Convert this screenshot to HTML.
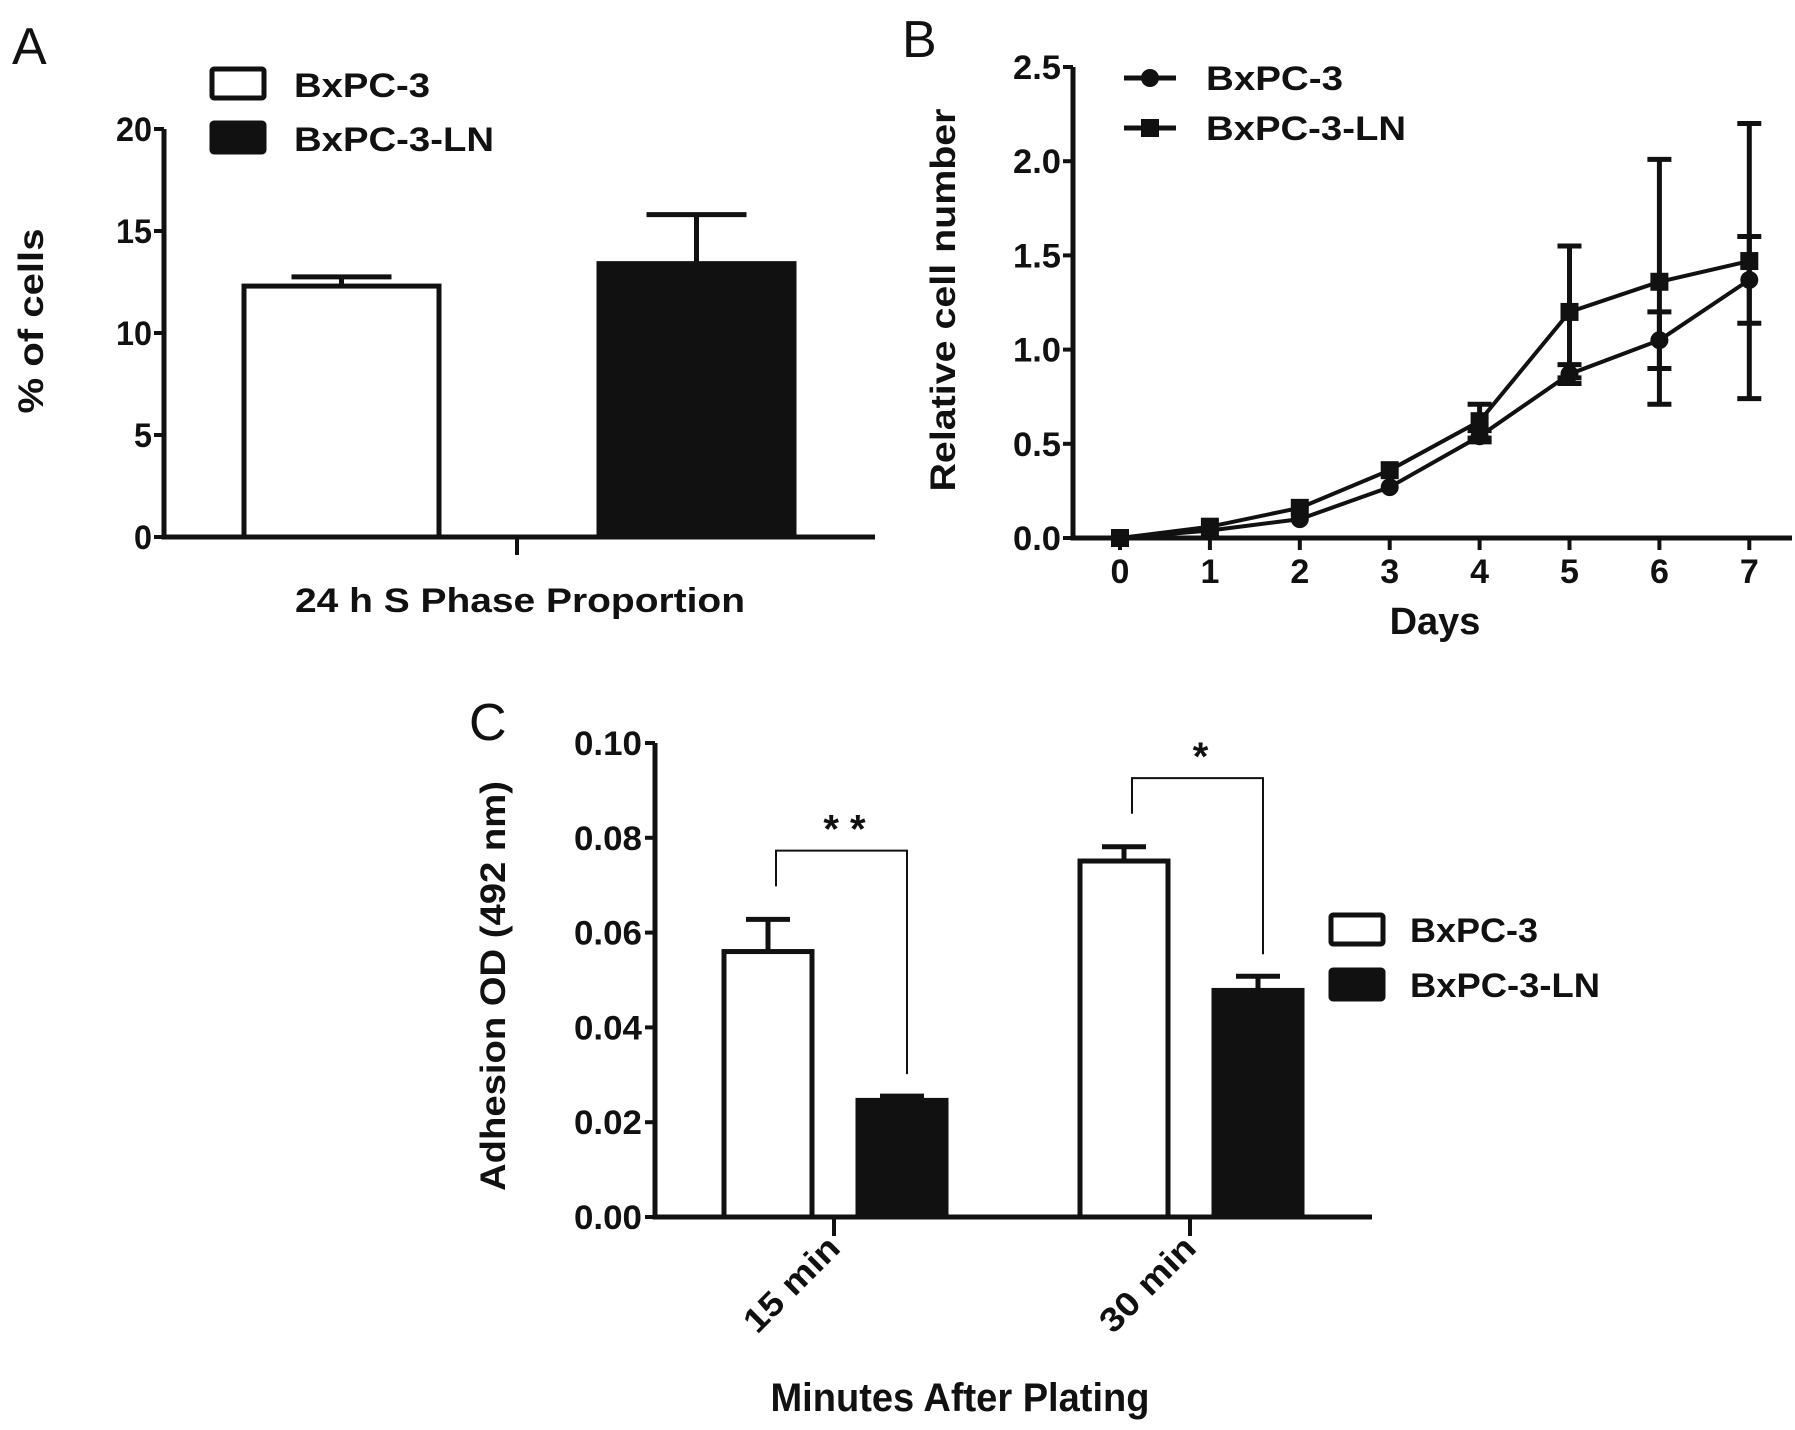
<!DOCTYPE html>
<html><head><meta charset="utf-8"><style>
html,body{margin:0;padding:0;background:#fff;}
svg{display:block;font-family:"Liberation Sans",Arial,sans-serif;}
.b{font-weight:bold;fill:#111;}
</style></head><body>
<svg id="fig" width="1795" height="1430" viewBox="0 0 1795 1430" xmlns="http://www.w3.org/2000/svg">
<g id="pa"></g>
<g id="pb"></g>
<g id="pc"></g>
</svg>
<script>
// Panel A data
const aSeries = ["BxPC-3", "BxPC-3-LN"];
const aValues = [12.3, 13.4];
const aErrors = [0.45, 2.4];
const aTicks = [0, 5, 10, 15, 20];
// Panel B data
const bDays = [0, 1, 2, 3, 4, 5, 6, 7];
const bBxPC3 = [0, 0.04, 0.10, 0.27, 0.54, 0.87, 1.05, 1.37];
const bBxPC3Err = [0, 0.01, 0.01, 0.02, 0.03, 0.05, 0.15, 0.23];
const bLN = [0, 0.06, 0.16, 0.36, 0.62, 1.20, 1.36, 1.47];
const bLNErr = [0, 0.01, 0.01, 0.02, 0.09, 0.35, 0.65, 0.73];
const bTicks = [0, 0.5, 1.0, 1.5, 2.0, 2.5];
// Panel C data
const cCategories = ["15 min", "30 min"];
const cBxPC3 = [0.056, 0.0751];
const cBxPC3Err = [0.0068, 0.003];
const cLN = [0.0246, 0.0478];
const cLNErr = [0.0009, 0.003];
const cTicks = [0, 0.02, 0.04, 0.06, 0.08, 0.10];
const cSig = ["* *", "*"];

const NS = "http://www.w3.org/2000/svg";
function mk(parent, tag, attrs, text){
  const e = document.createElementNS(NS, tag);
  for (const k in attrs) e.setAttribute(k, attrs[k]);
  if (text !== undefined) e.textContent = text;
  parent.appendChild(e);
  return e;
}
const K = "#111";

// ---------- Panel A ----------
(function(){
  const g = document.getElementById('pa');
  const y0 = 537, yTop = 129, xL = 164, xR = 875;
  const ya = v => y0 - (v / 20) * (y0 - yTop);
  let t = mk(g, 'text', {x: 12, y: 64, 'font-size': 52, fill: K}, 'A');
  
  
  let ax = mk(g, 'path', {d: `M${xL},${yTop} V${y0} H${xR}`, stroke: K, 'stroke-width': 5, fill: 'none'});
  
  
  aTicks.forEach(v => {
    const tk = mk(g, 'line', {x1: xL - 10, x2: xL, y1: ya(v), y2: ya(v), stroke: K, 'stroke-width': 4});
    
    
    const tl = mk(g, 'text', {x: xL - 12, y: ya(v) + 12, 'text-anchor': 'end', 'font-size': 34, class: 'b', textLength: v >= 10 ? 36 : 18, lengthAdjust: 'spacingAndGlyphs'}, String(v));
    
    
  });
  const xt = mk(g, 'line', {x1: 517, x2: 517, y1: y0, y2: 555, stroke: K, 'stroke-width': 4});
  
  
  const centers = [341.5, 696.5], w = 195, capW = 100;
  aValues.forEach((v, i) => {
    const er = mk(g, 'path', {d: `M${centers[i]},${ya(v)} V${ya(v + aErrors[i])} M${centers[i] - capW/2},${ya(v + aErrors[i])} H${centers[i] + capW/2}`, stroke: K, 'stroke-width': 5});
    
    
    const r = mk(g, 'rect', {x: centers[i] - w/2, y: ya(v), width: w, height: y0 - ya(v), fill: i ? K : '#fff', stroke: K, 'stroke-width': 5});
    
    
  });
  const yt = mk(g, 'text', {x: 0, y: 0, transform: 'translate(43,321) rotate(-90)', 'text-anchor': 'middle', 'font-size': 35, class: 'b', textLength: 185, lengthAdjust: 'spacingAndGlyphs'}, '% of cells');
  
  
  const xtl = mk(g, 'text', {x: 520, y: 612, 'text-anchor': 'middle', 'font-size': 34, class: 'b', textLength: 450, lengthAdjust: 'spacingAndGlyphs'}, '24 h S Phase Proportion');
  
  
  aSeries.forEach((s, i) => {
    const yb = [69, 123][i];
    const lb = mk(g, 'rect', {x: 212, y: yb, width: 52, height: 29, fill: i ? K : '#fff', stroke: K, 'stroke-width': 5, rx: 2});
    
    
    const lt = mk(g, 'text', {x: 294, y: yb + 28, 'font-size': 34, class: 'b', textLength: i ? 200 : 136, lengthAdjust: 'spacingAndGlyphs'}, s);
    
    
  });
})();

// ---------- Panel B ----------
(function(){
  const g = document.getElementById('pb');
  const y0 = 538, yTop = 67, xL = 1073, xR = 1792;
  const yb = v => y0 - (v / 2.5) * (y0 - yTop);
  const xb = d => 1120 + d * 89.9;
  let t = mk(g, 'text', {x: 902, y: 57, 'font-size': 52, fill: K}, 'B');
  
  
  let ax = mk(g, 'path', {d: `M${xL},${yTop} V${y0} H${xR}`, stroke: K, 'stroke-width': 5, fill: 'none'});
  
  
  bTicks.forEach(v => {
    const tk = mk(g, 'line', {x1: xL - 10, x2: xL, y1: yb(v), y2: yb(v), stroke: K, 'stroke-width': 4});
    
    
    const tl = mk(g, 'text', {x: xL - 12, y: yb(v) + 12, 'text-anchor': 'end', 'font-size': 34, class: 'b', textLength: 48, lengthAdjust: 'spacingAndGlyphs'}, v.toFixed(1));
    
    
  });
  bDays.forEach(d => {
    const tk = mk(g, 'line', {x1: xb(d), x2: xb(d), y1: y0, y2: y0 + 12, stroke: K, 'stroke-width': 4});
    
    
    const tl = mk(g, 'text', {x: xb(d), y: 583, 'text-anchor': 'middle', 'font-size': 34, class: 'b'}, String(d));
    
    
  });
  const series = [[bBxPC3, bBxPC3Err, 'circle'], [bLN, bLNErr, 'square']];
  series.forEach(([vals, errs, shape]) => {
    const ln = mk(g, 'polyline', {points: vals.map((v, i) => `${xb(bDays[i])},${yb(v)}`).join(' '), fill: 'none', stroke: K, 'stroke-width': 4});
    
    
    vals.forEach((v, i) => {
      const x = xb(bDays[i]);
      if (errs[i] > 0.02) {
        const e = mk(g, 'path', {d: `M${x},${yb(v - errs[i])} V${yb(v + errs[i])} M${x - 12},${yb(v + errs[i])} H${x + 12} M${x - 12},${yb(v - errs[i])} H${x + 12}`, stroke: K, 'stroke-width': 5});
        
        
      }
      let m;
      if (shape === 'circle') m = mk(g, 'circle', {cx: x, cy: yb(v), r: 9, fill: K});
      else m = mk(g, 'rect', {x: x - 9, y: yb(v) - 9, width: 18, height: 18, fill: K});
      
      
    });
  });
  const yt = mk(g, 'text', {x: 0, y: 0, transform: 'translate(955,300) rotate(-90)', 'text-anchor': 'middle', 'font-size': 35, class: 'b', textLength: 383, lengthAdjust: 'spacingAndGlyphs'}, 'Relative  cell  number');
  
  
  const xtl = mk(g, 'text', {x: 1435, y: 634, 'text-anchor': 'middle', 'font-size': 38, class: 'b'}, 'Days');
  
  
  ['BxPC-3', 'BxPC-3-LN'].forEach((s, i) => {
    const yy = [78, 128][i];
    const l = mk(g, 'line', {x1: 1124, x2: 1176, y1: yy, y2: yy, stroke: K, 'stroke-width': 5});
    
    
    let m = i ? mk(g, 'rect', {x: 1141, y: yy - 9, width: 18, height: 18, fill: K}) : mk(g, 'circle', {cx: 1150, cy: yy, r: 9, fill: K});
    
    
    const lt = mk(g, 'text', {x: 1206, y: yy + 12, 'font-size': 34, class: 'b', textLength: i ? 200 : 137, lengthAdjust: 'spacingAndGlyphs'}, s);
    
    
  });
})();

// ---------- Panel C ----------
(function(){
  const g = document.getElementById('pc');
  const y0 = 1217, yTop = 743, xL = 655, xR = 1372;
  const yc = v => y0 - (v / 0.10) * (y0 - yTop);
  const ticksX = [834, 1190];
  let t = mk(g, 'text', {x: 469, y: 740, 'font-size': 52, fill: K}, 'C');
  
  
  let ax = mk(g, 'path', {d: `M${xL},${yTop} V${y0} H${xR}`, stroke: K, 'stroke-width': 5, fill: 'none'});
  
  
  cTicks.forEach(v => {
    const tk = mk(g, 'line', {x1: xL - 10, x2: xL, y1: yc(v), y2: yc(v), stroke: K, 'stroke-width': 4});
    
    
    const tl = mk(g, 'text', {x: xL - 13, y: yc(v) + 12, 'text-anchor': 'end', 'font-size': 34, class: 'b', textLength: 68, lengthAdjust: 'spacingAndGlyphs'}, v.toFixed(2));
    
    
  });
  const w = 88;
  cCategories.forEach((c, i) => {
    const tx = ticksX[i];
    const tk = mk(g, 'line', {x1: tx, x2: tx, y1: y0, y2: y0 + 19, stroke: K, 'stroke-width': 4});
    
    
    const tl = mk(g, 'text', {x: 0, y: 0, transform: `translate(${tx + 8},${1250}) rotate(-45)`, 'text-anchor': 'end', 'font-size': 34, class: 'b', textLength: 120, lengthAdjust: 'spacingAndGlyphs'}, c);
    
    
    [[cBxPC3[i], cBxPC3Err[i], tx - 66, '#fff', 'c-bar-bxpc3'], [cLN[i], cLNErr[i], tx + 68, K, 'c-bar-bxpc3-ln']].forEach(([v, e, cx, fill, nm]) => {
      const er = mk(g, 'path', {d: `M${cx},${yc(v)} V${yc(v + e)} M${cx - 22},${yc(v + e)} H${cx + 22}`, stroke: K, 'stroke-width': 5});
      
      
      const r = mk(g, 'rect', {x: cx - w/2, y: yc(v), width: w, height: y0 - yc(v), fill: fill, stroke: K, 'stroke-width': 5});
      
      
    });
    const lx = tx - 58, rx = tx + 73;
    const topY = yc(Math.max(cBxPC3[i] + cBxPC3Err[i], cLN[i] + cLNErr[i]) + 0.0145);
    const br = mk(g, 'path', {d: `M${lx},${yc(cBxPC3[i] + cBxPC3Err[i]) - 33} V${topY} H${rx} V${yc(cLN[i] + cLNErr[i]) - 22}`, stroke: K, 'stroke-width': 2, fill: 'none'});
    
    
    const st = mk(g, 'text', {x: (lx + rx) / 2 + 3, y: topY - 8, 'text-anchor': 'middle', 'font-size': 40, class: 'b'}, cSig[i]);
    
    
  });
  const yt = mk(g, 'text', {x: 0, y: 0, transform: 'translate(505,986) rotate(-90)', 'text-anchor': 'middle', 'font-size': 35, class: 'b', textLength: 410, lengthAdjust: 'spacingAndGlyphs'}, 'Adhesion OD (492 nm)');
  
  
  const xtl = mk(g, 'text', {x: 960, y: 1411, 'text-anchor': 'middle', 'font-size': 40, class: 'b', textLength: 379, lengthAdjust: 'spacingAndGlyphs'}, 'Minutes After Plating');
  
  
  ['BxPC-3', 'BxPC-3-LN'].forEach((s, i) => {
    const yy = [915, 970][i];
    const lb = mk(g, 'rect', {x: 1331, y: yy, width: 52, height: 29, fill: i ? K : '#fff', stroke: K, 'stroke-width': 5, rx: 2});
    
    
    const lt = mk(g, 'text', {x: 1410, y: yy + 27, 'font-size': 34, class: 'b', textLength: i ? 190 : 128, lengthAdjust: 'spacingAndGlyphs'}, s);
    
    
  });
})();
</script>
</body></html>
